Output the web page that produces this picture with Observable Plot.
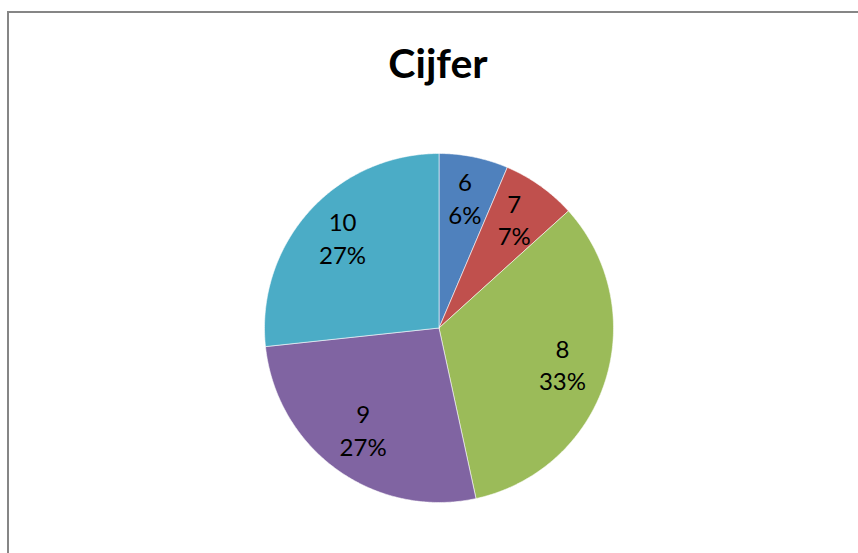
<!DOCTYPE html>
<html>
<head>
<meta charset="utf-8">
<script src="https://cdn.jsdelivr.net/npm/d3@7"></script>
<script src="https://cdn.jsdelivr.net/npm/@observablehq/plot@0.6"></script>
<style>
  html, body { margin: 0; padding: 0; background: #fff; width: 858px; height: 553px; overflow: hidden; }
  #frame { position: absolute; left: 7px; top: 11px; width: 900px; height: 600px;
           border-left: 2px solid #868686; border-top: 2px solid #868686; box-sizing: border-box; }
  #title { position: absolute; left: 0; width: 876px; top: 42px; text-align: center;
           font-family: Lato, "Open Sans", sans-serif; font-weight: bold; font-size: 41px; line-height: 41px; color: #000; }
  #chart { position: absolute; left: 0; top: 100px; }
</style>
</head>
<body>
<div id="frame"></div>
<div id="title">Cijfer</div>
<div id="chart"></div>
<script>
const categories = ["6", "7", "8", "9", "10"];
const shares = [6.4, 6.9, 33.3, 26.7, 26.7];
const sliceColors = ["#4F81BD", "#C0504D", "#9BBB59", "#8064A2", "#4BACC6"];

const total = d3.sum(shares);
const arcs = d3.pie().sort(null).value(d => d)(shares);

// polygon outline for each slice in unit coordinates (y up, clockwise from top)
const outline = [];
arcs.forEach((a, i) => {
  const cat = categories[i];
  outline.push({cat, x: 0, y: 0});
  const n = Math.max(8, Math.ceil((a.endAngle - a.startAngle) / 0.01));
  for (let k = 0; k <= n; k++) {
    const t = a.startAngle + (a.endAngle - a.startAngle) * k / n;
    outline.push({cat, x: Math.sin(t), y: Math.cos(t)});
  }
  outline.push({cat, x: 0, y: 0});
});

const labels = arcs.map((a, i) => {
  const mid = (a.startAngle + a.endAngle) / 2;
  const r = 0.743;
  return {
    cat: categories[i],
    x: r * Math.sin(mid),
    y: r * Math.cos(mid),
    text: categories[i] + "\n" + Math.round(shares[i] / total * 100) + "%"
  };
});

const cx = 438.5, cy = 227.5, R = 174.5;
const chart = Plot.plot({
  width: 858,
  height: 453,
  margin: 0,
  x: {domain: [-1, 1], range: [cx - R, cx + R], axis: null},
  y: {domain: [-1, 1], range: [cy + R, cy - R], axis: null},
  color: {domain: categories, range: sliceColors},
  style: {background: "transparent"},
  marks: [
    Plot.line(outline, {x: "x", y: "y", z: "cat", fill: "cat", stroke: "#ffffff", strokeWidth: 0.7, strokeOpacity: 0.8, curve: "linear"}),
    Plot.text(labels, {x: "x", y: "y", text: "text", fontSize: 24, lineHeight: 1.36, fill: "#000", dy: -4,
                       fontFamily: "Lato, 'Open Sans', sans-serif", textAnchor: "middle", lineAnchor: "middle"})
  ]
});
document.getElementById("chart").appendChild(chart);
</script>
</body>
</html>
